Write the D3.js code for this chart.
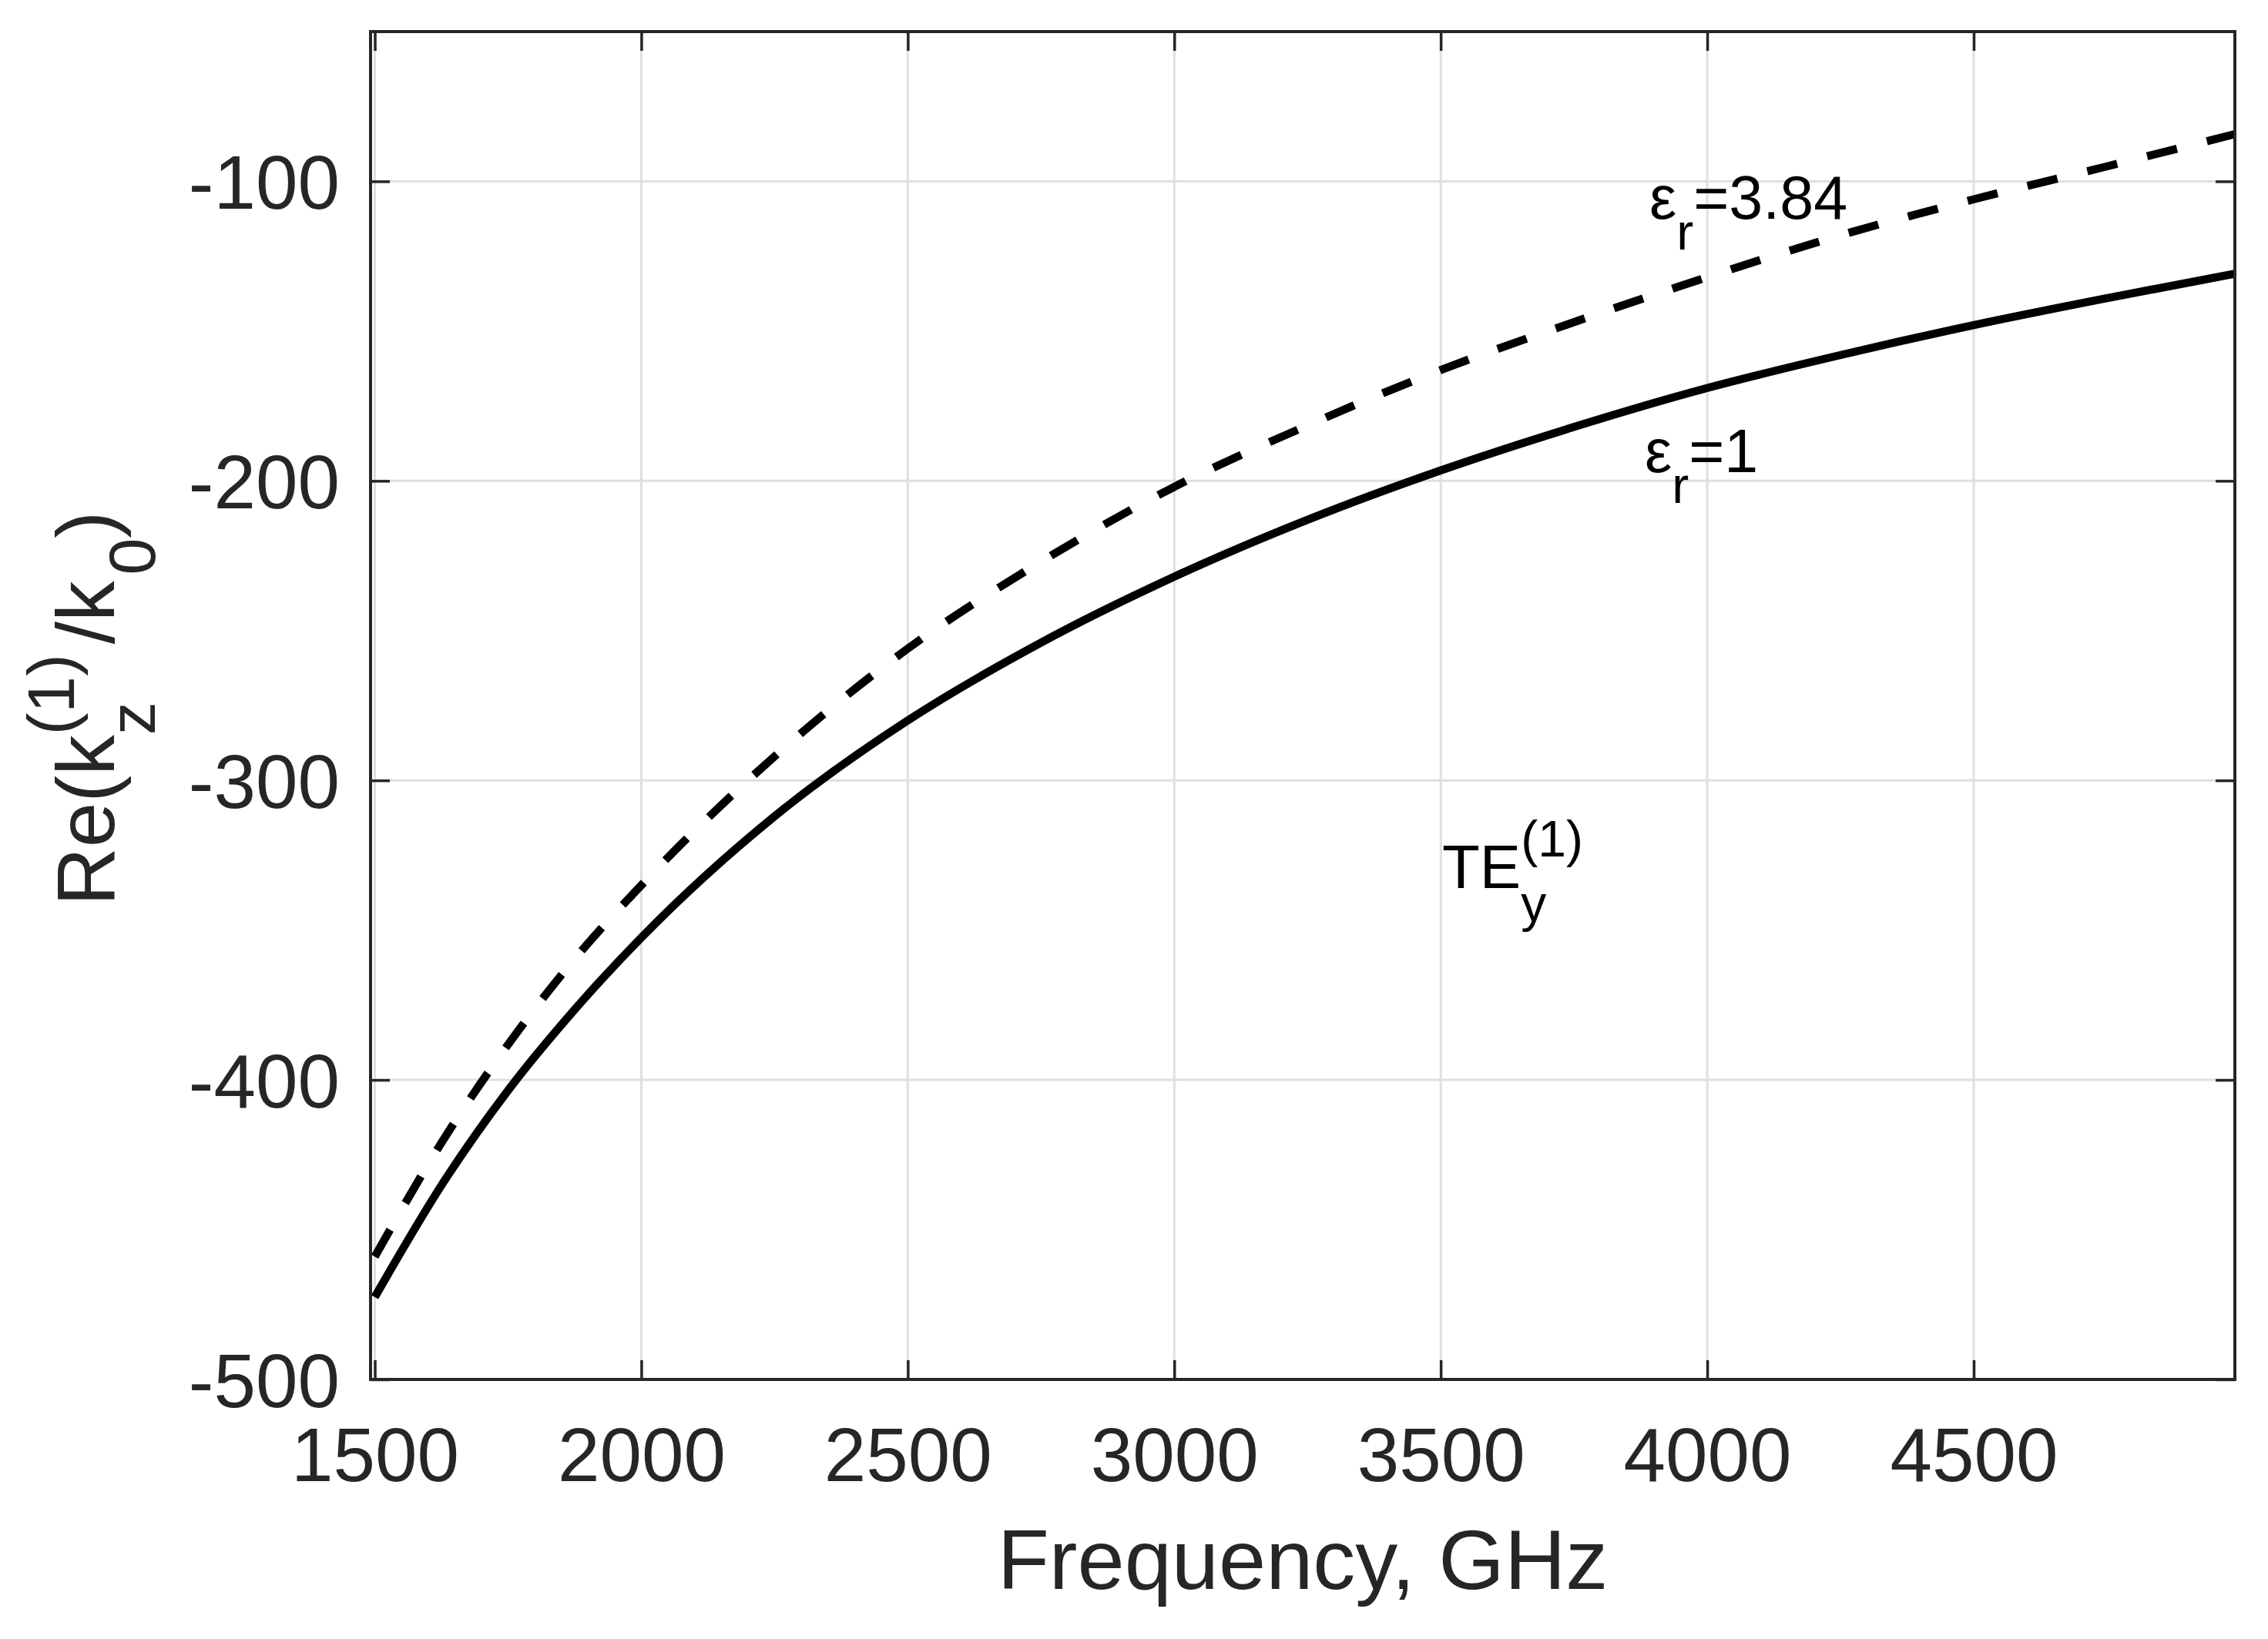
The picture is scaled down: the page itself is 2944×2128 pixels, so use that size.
<!DOCTYPE html>
<html>
<head>
<meta charset="utf-8">
<script src="https://cdn.jsdelivr.net/npm/d3@7"></script>
<style>
  body { margin: 0; background: #ffffff; }
  svg { display: block; }
</style>
</head>
<body>
<svg id="chart" width="2944" height="2128"></svg>
<script>
// ---- data ----
const freq   = [1500, 1625, 1750, 1875, 2000, 2250, 2500, 2750, 3000, 3250, 3500, 3750, 4000, 4250, 4500, 4750, 5000];
const eps1   = [-472.5, -435.2, -403.5, -376.5, -352.5, -312, -280, -254, -232, -213, -196.5, -182, -169, -158, -148, -139, -130.5];
const eps384 = [-459, -421, -388.2, -359.6, -335, -292, -256, -227, -202, -181.5, -163, -147, -132, -118, -106, -95, -83.8];
const xTicks = [1500, 2000, 2500, 3000, 3500, 4000, 4500];
const yTicks = [-500, -400, -300, -200, -100];
const xDomain = [1492, 4990];
const yDomain = [-500, -50];

// ---- layout ----
const W = 2944, H = 2128;
const L = 481, R = 2901, T = 41, B = 1791;
const FONT = "'Liberation Sans', Arial, Helvetica, sans-serif";
const AX = "#262626";

const svg = d3.select("#chart");
svg.append("rect").attr("width", W).attr("height", H).attr("fill", "#fff");

const x = d3.scaleLinear().domain(xDomain).range([L, R]);
const y = d3.scaleLinear().domain(yDomain).range([B, T]);

// grid
const grid = svg.append("g").attr("stroke", "#dfdfdf").attr("stroke-width", 3);
grid.selectAll("line.gx").data(xTicks).join("line")
  .attr("x1", d => x(d)).attr("x2", d => x(d)).attr("y1", T).attr("y2", B);
grid.selectAll("line.gy").data(yTicks).join("line")
  .attr("y1", d => y(d)).attr("y2", d => y(d)).attr("x1", L).attr("x2", R);

// clip
svg.append("clipPath").attr("id", "clip")
  .append("rect").attr("x", L).attr("y", T).attr("width", R - L).attr("height", B - T);

const line = d3.line().x(d => x(d[0])).y(d => y(d[1])).curve(d3.curveMonotoneX);
const plot = svg.append("g").attr("clip-path", "url(#clip)");

plot.append("path")
  .attr("d", line(freq.map((f, i) => [f, eps384[i]])))
  .attr("fill", "none").attr("stroke", "#000").attr("stroke-width", 10.5)
  .attr("stroke-dasharray", "40,40");

plot.append("path")
  .attr("d", line(freq.map((f, i) => [f, eps1[i]])))
  .attr("fill", "none").attr("stroke", "#000").attr("stroke-width", 10.5);

// axes
const fmt = d => String(d);
const tickLen = 25;

const gx = svg.append("g").attr("transform", `translate(0,${B})`)
  .call(d3.axisBottom(x).tickValues(xTicks).tickFormat(fmt).tickSizeInner(-tickLen).tickSizeOuter(0));
gx.select(".domain").remove();
gx.selectAll(".tick line").attr("stroke", AX).attr("stroke-width", 3.5);
gx.selectAll(".tick text").attr("y", 132).attr("dy", 0)
  .attr("font-family", FONT).attr("font-size", 98).attr("fill", AX);

const gxt = svg.append("g").attr("transform", `translate(0,${T})`)
  .call(d3.axisTop(x).tickValues(xTicks).tickFormat("").tickSizeInner(-tickLen).tickSizeOuter(0));
gxt.select(".domain").remove();
gxt.selectAll(".tick line").attr("stroke", AX).attr("stroke-width", 3.5);

const gy = svg.append("g").attr("transform", `translate(${L},0)`)
  .call(d3.axisLeft(y).tickValues(yTicks).tickFormat(fmt).tickSizeInner(-tickLen).tickSizeOuter(0));
gy.select(".domain").remove();
gy.selectAll(".tick line").attr("stroke", AX).attr("stroke-width", 3.5);
gy.selectAll(".tick text").attr("x", -40).attr("dy", "0.36em")
  .attr("font-family", FONT).attr("font-size", 98).attr("fill", AX);

const gyr = svg.append("g").attr("transform", `translate(${R},0)`)
  .call(d3.axisRight(y).tickValues(yTicks).tickFormat("").tickSizeInner(-tickLen).tickSizeOuter(0));
gyr.select(".domain").remove();
gyr.selectAll(".tick line").attr("stroke", AX).attr("stroke-width", 3.5);

// box
svg.append("rect").attr("x", L).attr("y", T).attr("width", R - L).attr("height", B - T)
  .attr("fill", "none").attr("stroke", AX).attr("stroke-width", 4);

// x label
svg.append("text").attr("x", (L + R) / 2).attr("y", 2063)
  .attr("text-anchor", "middle").attr("font-family", FONT).attr("font-size", 110).attr("fill", AX)
  .text("Frequency, GHz");

// y label
const yl = svg.append("text").attr("transform", "translate(147.5,1176) rotate(-90)")
  .attr("font-family", FONT).attr("font-size", 105).attr("fill", AX);
yl.append("tspan").text("Re(k");
yl.append("tspan").attr("font-size", 86).attr("dy", 53).text("z");
yl.append("tspan").attr("font-size", 86).attr("dx", -43).attr("dy", -105).text("(1)");
yl.append("tspan").attr("dx", 13).attr("dy", 52).text("/k");
yl.append("tspan").attr("font-size", 86).attr("dx", 8).attr("dy", 53).text("0");
yl.append("tspan").attr("dy", -53).text(")");

// annotations
function epsLabel(px, py, val) {
  const t = svg.append("text").attr("x", px).attr("y", py)
    .attr("font-family", FONT).attr("font-size", 79).attr("fill", "#000");
  t.append("tspan").text("ε");
  t.append("tspan").attr("font-size", 66).attr("dy", 40).text("r");
  t.append("tspan").attr("dy", -40).text("=" + val);
}
epsLabel(2141, 284, "3.84");
epsLabel(2135, 613, "1");

const te = svg.append("text").attr("x", 1872).attr("y", 1153)
  .attr("font-family", FONT).attr("font-size", 80).attr("fill", "#000");
te.append("tspan").text("TE");
te.append("tspan").attr("font-size", 66).attr("dy", 43).text("y");
te.append("tspan").attr("font-size", 66).attr("dx", -33).attr("dy", -84).text("(1)");
</script>
</body>
</html>
